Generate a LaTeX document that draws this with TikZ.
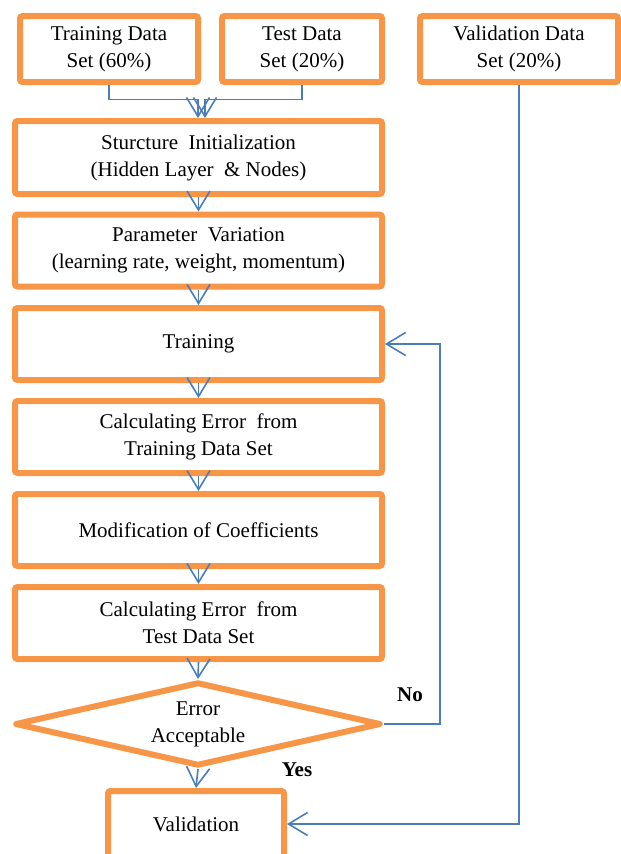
\documentclass[tikz,border=0pt]{standalone}
\usepackage{fontspec}
\setmainfont{Liberation Serif}
\usetikzlibrary{arrows.meta,shapes.geometric}
\definecolor{boxorange}{HTML}{F79646}
\definecolor{connblue}{HTML}{4A7EBB}
\tikzset{
  txt/.style={font={\fontsize{21}{27}\selectfont}, align=center, text=black},
  obox/.style={txt, draw=boxorange, line width=6pt, rounded corners=2.5pt, fill=white, inner sep=0pt},
  odia/.style={txt, draw=boxorange, line width=6pt, line join=round, diamond, fill=white, inner sep=0pt, aspect=4.3},
  conn/.style={draw=connblue, line width=1.6pt},
  arr/.style={conn, -{Straight Barb[length=19pt,width=23pt]}},
  lbl/.style={font={\fontsize{21}{27}\selectfont\bfseries}, text=black, inner sep=0pt}
}
\begin{document}
\begin{tikzpicture}[x=1pt,y=-1pt]
\clip (0,0) rectangle (621,854);
\fill[white] (0,0) rectangle (621,854);
% top boxes
\node[obox, minimum width=178pt, minimum height=66pt] (trn) at (109,49) {Training Data\\Set (60\%)};
\node[obox, minimum width=160pt, minimum height=66pt] (tst) at (302,49) {Test Data\\Set (20\%)};
\node[obox, minimum width=198pt, minimum height=66pt] (vds) at (519,49) {Validation Data\\Set (20\%)};
% main stack
\node[obox, minimum width=367pt, minimum height=73pt] (str) at (198.5,157.5) {Sturcture\ \ Initialization\\(Hidden Layer\ \ \& Nodes)};
\node[obox, minimum width=367pt, minimum height=72pt] (par) at (198.5,250.5) {Parameter\ \ Variation\\(learning rate,\ weight,\ momentum)};
\node[obox, minimum width=367pt, minimum height=72pt] (trg) at (198.5,344) {Training};
\node[obox, minimum width=367pt, minimum height=72pt] (ce1) at (198.5,437) {Calculating Error\ \ from\\Training Data Set};
\node[obox, minimum width=367pt, minimum height=72pt] (mod) at (198.5,530) {Modification of Coefficients};
\node[obox, minimum width=367pt, minimum height=72pt] (ce2) at (198.5,623) {Calculating Error\ \ from\\Test Data Set};
\node[odia, minimum width=366pt, minimum height=84pt] (dia) at (198,724) {Error\\Acceptable};
\node[obox, minimum width=176pt, minimum height=66pt] (vbox) at (196,824) {Validation};
% connectors
\coordinate (j1) at (198,99.5);
\coordinate (j2) at (205,99.5);
\draw[arr] (trn.south) |- (j1) -- (j1 |- str.north);
\draw[arr] (tst.south) |- (j2) -- (j2 |- str.north);
\draw[arr] (str.south) -- (par.north);
\draw[arr] (par.south) -- (trg.north);
\draw[arr] (trg.south) -- (ce1.north);
\draw[arr] (ce1.south) -- (mod.north);
\draw[arr] (mod.south) -- (ce2.north);
\draw[arr] (ce2.south) -- (dia.north);
\coordinate (nox) at (440,500);
\draw[arr] (dia.east) -| (nox |- trg.east) -- (trg.east);
\draw[arr] (dia.south) -- (vbox.north);
\draw[arr] (vds.south) |- (vbox.east);
% labels
\node[lbl] (no) at (410,695) {No};
\node[lbl] (yes) at (297,770) {Yes};
\end{tikzpicture}
\end{document}
